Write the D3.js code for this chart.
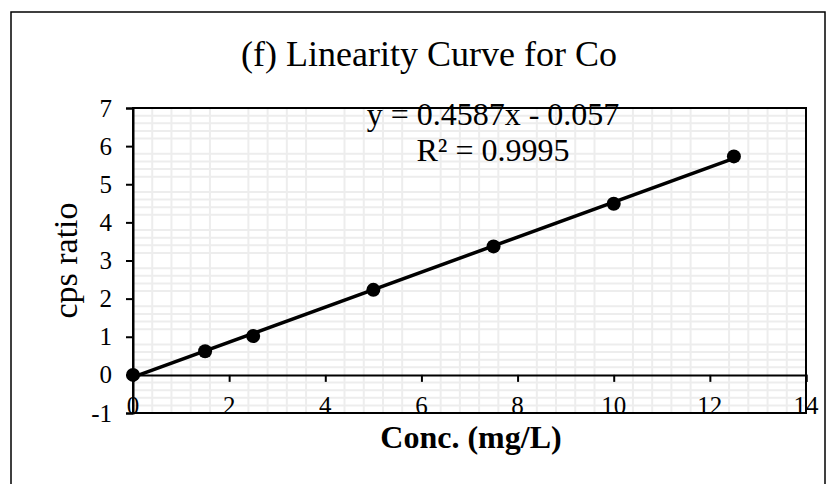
<!DOCTYPE html>
<html>
<head>
<meta charset="utf-8">
<script src="https://cdn.jsdelivr.net/npm/d3@7"></script>
<style>
  body { margin: 0; background: #fff; }
  text { font-family: "Liberation Serif", "Times New Roman", serif; fill: #000; }
</style>
</head>
<body>
<div id="chart"></div>
<script>
// Linearity curve data
var conc = [0, 1.5, 2.5, 5, 7.5, 10, 12.5];
var cpsRatio = [0, 0.62, 1.02, 2.23, 3.37, 4.49, 5.73];
var xTicks = [0, 2, 4, 6, 8, 10, 12, 14];
var yTicks = [-1, 0, 1, 2, 3, 4, 5, 6, 7];
var slope = 0.4587, intercept = -0.057;
var eqText = "y = 0.4587x - 0.057",
    r2Text = "R\u00b2 = 0.9995";

var w = 835, h = 484;
var margin = {top: 108, right: 29, bottom: 71, left: 133};
var width = w - margin.left - margin.right,
    height = h - margin.top - margin.bottom;

var svg = d3.select("#chart").append("svg")
    .attr("width", w)
    .attr("height", h);

// outer chart border
svg.append("rect")
    .attr("x", 11).attr("y", 12)
    .attr("width", 814).attr("height", 500)
    .attr("fill", "none")
    .attr("stroke", "#000")
    .attr("stroke-width", 1.5);

var x = d3.scaleLinear().domain([0, 14]).range([0, width]);
var y = d3.scaleLinear().domain([-1, 7]).range([height, 0]);

var g = svg.append("g").attr("transform", "translate(" + margin.left + "," + margin.top + ")");

// minor gridlines (majors are left blank like the original)
var vMinor = d3.range(1, 35).map(function(i) { return i * 0.4; })
    .filter(function(v) { return Math.abs(v / 2 - Math.round(v / 2)) > 1e-6; });
var hMinor = d3.range(-4, 35).map(function(i) { return i * 0.2; })
    .filter(function(v) { return Math.abs(v - Math.round(v)) > 1e-6; });

g.selectAll(".vgrid").data(vMinor).enter().append("line")
    .attr("x1", function(d) { return x(d); })
    .attr("x2", function(d) { return x(d); })
    .attr("y1", 0).attr("y2", height)
    .attr("stroke", "#ededed").attr("stroke-width", 2);

g.selectAll(".hgrid").data(hMinor).enter().append("line")
    .attr("x1", 0).attr("x2", width)
    .attr("y1", function(d) { return y(d); })
    .attr("y2", function(d) { return y(d); })
    .attr("stroke", "#ededed").attr("stroke-width", 2);

// plot frame
g.append("rect")
    .attr("width", width).attr("height", height)
    .attr("fill", "none")
    .attr("stroke", "#000")
    .attr("stroke-width", 2);

// y axis
var yAxis = g.append("g")
    .call(d3.axisLeft(y).tickValues(yTicks).tickSize(7).tickPadding(14)
        .tickFormat(function(d) { return String(d); }));
yAxis.select(".domain").attr("stroke-width", 2);
yAxis.selectAll(".tick line").attr("stroke-width", 2);
yAxis.selectAll("text")
    .style("font-family", "Liberation Serif")
    .style("font-size", "25px");

// x axis line at y = 0 with ticks down, labels at bottom
var xAxis = g.append("g")
    .attr("transform", "translate(0," + y(0) + ")")
    .call(d3.axisBottom(x).tickValues(xTicks).tickSize(7).tickFormat(""));
xAxis.select(".domain").attr("stroke-width", 2);
xAxis.selectAll(".tick line").attr("stroke-width", 2);

g.selectAll(".xlab").data(xTicks).enter().append("text")
    .attr("x", function(d) { return x(d); })
    .attr("y", height + 1)
    .attr("text-anchor", "middle")
    .style("font-size", "25px")
    .text(function(d) { return d; });

// trendline
var line = d3.line()
    .x(function(d) { return x(d); })
    .y(function(d) { return y(slope * d + intercept); });

g.append("path")
    .datum([0, d3.max(conc)])
    .attr("fill", "none")
    .attr("stroke", "#000")
    .attr("stroke-width", 3.5)
    .attr("d", line);

// data points
g.selectAll(".pt").data(conc).enter().append("circle")
    .attr("cx", function(d) { return x(d); })
    .attr("cy", function(d, i) { return y(cpsRatio[i]); })
    .attr("r", 7)
    .attr("fill", "#000");

// equation
g.append("text")
    .attr("x", 360).attr("y", 17)
    .attr("text-anchor", "middle")
    .style("font-size", "32px")
    .text(eqText);
g.append("text")
    .attr("x", 360).attr("y", 53)
    .attr("text-anchor", "middle")
    .style("font-size", "32px")
    .text(r2Text);

// title
svg.append("text")
    .attr("x", 429).attr("y", 66)
    .attr("text-anchor", "middle")
    .style("font-size", "36px")
    .text("(f) Linearity Curve for Co");

// axis titles
svg.append("text")
    .attr("x", 471).attr("y", 448)
    .attr("text-anchor", "middle")
    .style("font-size", "32px")
    .style("font-weight", "bold")
    .text("Conc. (mg/L)");

svg.append("text")
    .attr("transform", "translate(77," + (margin.top + height / 2) + ") rotate(-90)")
    .attr("text-anchor", "middle")
    .style("font-size", "34px")
    .text("cps ratio");
</script>
</body>
</html>
